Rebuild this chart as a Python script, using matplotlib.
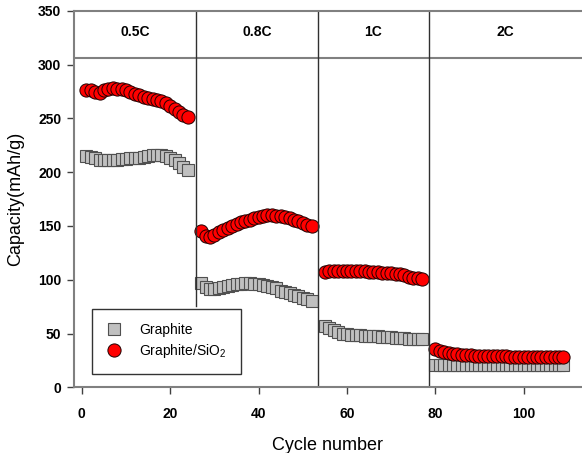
import matplotlib
matplotlib.use("Agg")
import matplotlib.pyplot as plt

plt.rcParams['font.family'] = ['Liberation Sans', 'DejaVu Sans']

# Cycle numbers for each C-rate step
cyc_05 = list(range(1, 25))
cyc_08 = list(range(27, 53))
cyc_1 = list(range(55, 78))
cyc_2 = list(range(80, 110))

# Graphite capacity (mAh/g)
gr_05 = [215, 214, 213, 211, 211, 211, 211, 211, 212, 212, 213, 213,
         213, 214, 215, 216, 216, 216, 215, 213, 211, 209, 205, 202]
gr_08 = [97, 93, 91, 91, 92, 93, 94, 95, 96, 96, 97, 97, 96,
         96, 95, 94, 93, 92, 90, 89, 88, 86, 85, 83, 82, 80]
gr_1 = [57, 55, 53, 51, 50, 50, 49, 49, 49, 48, 48, 48,
        48, 47, 47, 47, 46, 46, 46, 45, 45, 45, 45]
gr_2 = [21, 21, 21, 21, 21, 21, 21, 21, 21, 21, 21, 21, 21, 21, 21,
        21, 21, 21, 21, 21, 21, 21, 21, 21, 21, 21, 21, 21, 21, 21]

# Graphite/SiO2 capacity (mAh/g)
si_05 = [276, 276, 275, 274, 276, 277, 278, 277, 277, 276, 275, 273,
         272, 270, 269, 268, 267, 266, 264, 262, 259, 256, 253, 251]
si_08 = [145, 141, 140, 142, 144, 146, 148, 150, 152, 154, 155, 156, 157,
         158, 159, 160, 160, 159, 159, 158, 157, 156, 155, 153, 151, 150]
si_1 = [107, 108, 108, 108, 108, 108, 108, 108, 108, 108, 107, 107,
        107, 106, 106, 106, 105, 105, 104, 103, 102, 102, 101]
si_2 = [36, 34, 33, 32, 31, 31, 30, 30, 30, 29, 29, 29, 29, 29, 29,
        29, 29, 28, 28, 28, 28, 28, 28, 28, 28, 28, 28, 28, 28, 28]

rates = ["0.5C", "0.8C", "1C", "2C"]
bounds = [-1.8, 25.8, 53.4, 78.5, 113.2]

cycles = cyc_05 + cyc_08 + cyc_1 + cyc_2
graphite = gr_05 + gr_08 + gr_1 + gr_2
graphite_sio2 = si_05 + si_08 + si_1 + si_2

fig = plt.figure(figsize=(5.82, 4.53), dpi=100)
ax = fig.add_axes([0.127, 0.145, 0.873, 0.831])

ax.plot(cycles, graphite, linestyle='none', marker='s', markersize=8.5,
        markerfacecolor='#c0c0c0', markeredgecolor='#505050',
        markeredgewidth=0.8, label='Graphite')
ax.plot(cycles, graphite_sio2, linestyle='none', marker='o', markersize=9.5,
        markerfacecolor='#ff0000', markeredgecolor='#200000',
        markeredgewidth=0.7, label='Graphite/SiO$_\\mathregular{2}$')

ax.set_xlim(bounds[0], bounds[-1])
ax.set_ylim(0, 350)

# header band and dividers
ax.axhline(306, color='#808080', lw=1.5)
ax.plot([bounds[1], bounds[1]], [76, 350], color='#303030', lw=1)
for b in bounds[2:4]:
    ax.plot([b, b], [0, 350], color='#303030', lw=1)
for i, r in enumerate(rates):
    ax.text((bounds[i] + bounds[i + 1]) / 2, 330, r, ha='center', va='center',
            fontsize=10, fontweight='bold')

ax.set_xticks([0, 20, 40, 60, 80, 100])
ax.set_yticks(range(0, 351, 50))
ax.tick_params(direction='out', length=5, width=1, color='#404040',
               labelsize=10, pad=4)
ax.tick_params(axis='x', pad=9)
for lbl in ax.get_xticklabels() + ax.get_yticklabels():
    lbl.set_fontweight('bold')

for s in ['left', 'bottom', 'top']:
    ax.spines[s].set_color('#808080')
    ax.spines[s].set_linewidth(1.5)
ax.spines['right'].set_visible(False)

ax.set_xlabel('Cycle number', fontsize=13, labelpad=12)
ax.set_ylabel('Capacity(mAh/g)', fontsize=13, labelpad=10)

leg = ax.legend(loc='lower left', bbox_to_anchor=(0.035, 0.035, 0.294, 0.165),
                mode='expand', fontsize=10, frameon=True, fancybox=False,
                edgecolor='black', handlelength=1.2, handletextpad=1.2,
                borderpad=1.0, labelspacing=0.4, borderaxespad=0)
leg.get_frame().set_linewidth(1)

fig.savefig('out.png', dpi=100)
